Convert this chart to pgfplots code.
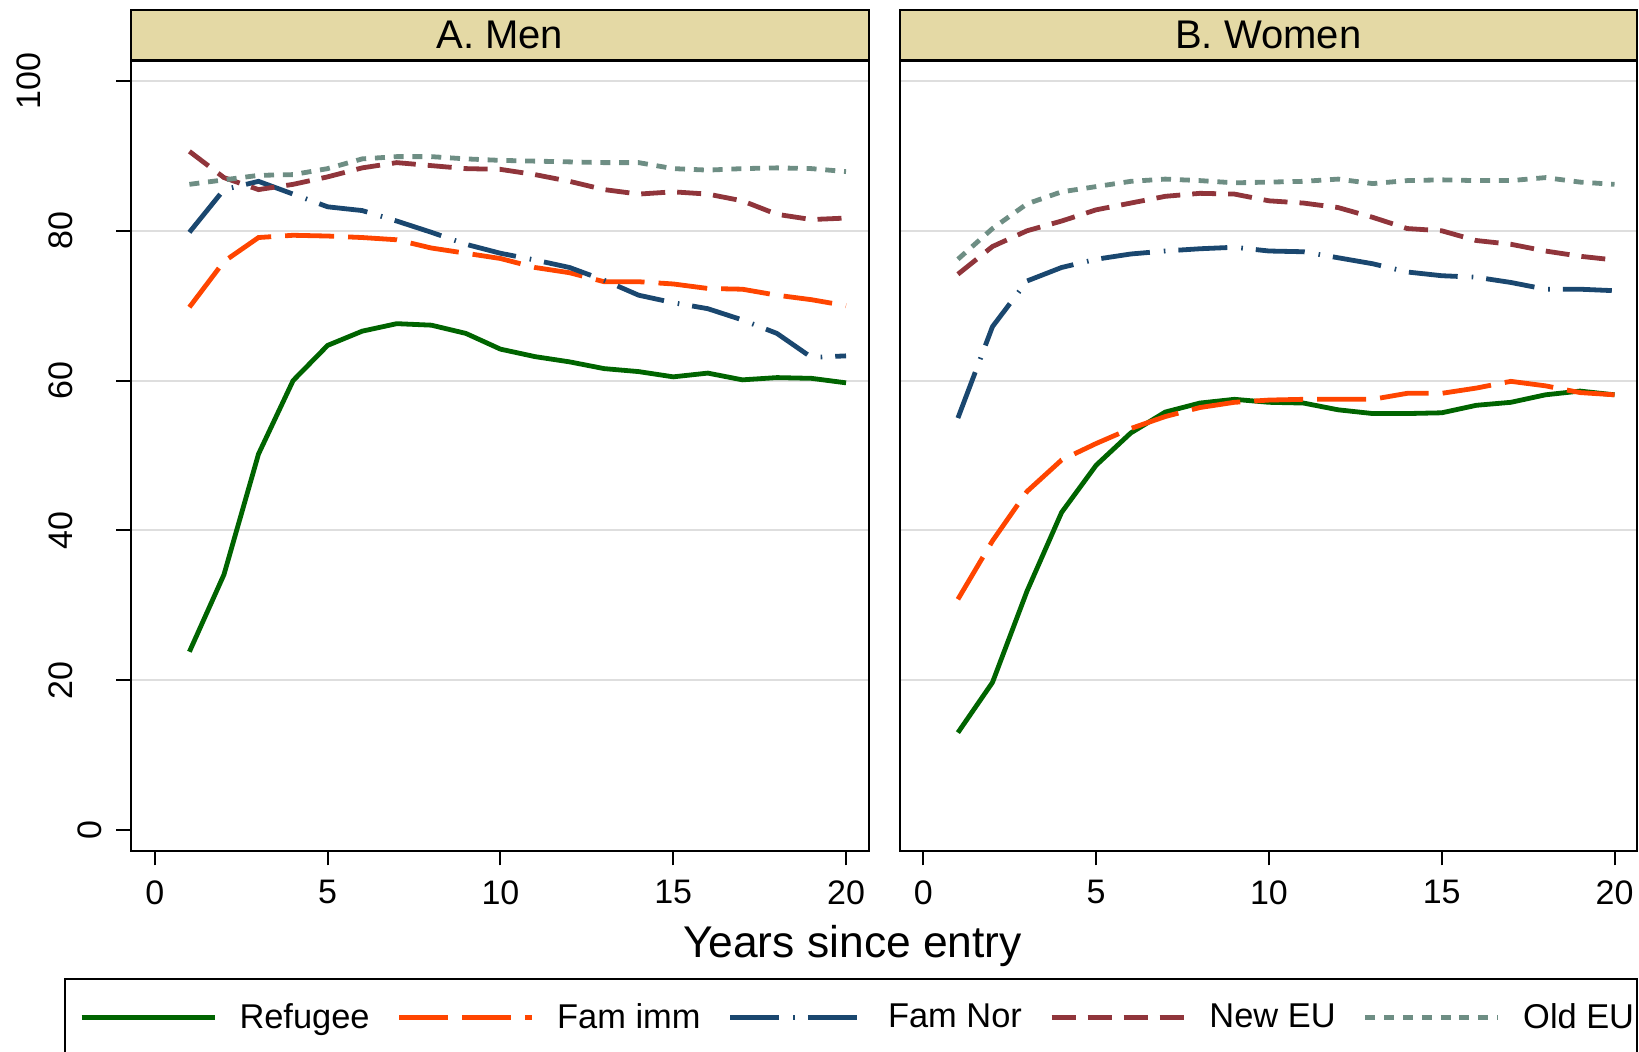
\documentclass[border=0pt]{standalone}
\usepackage{fontspec}
\setmainfont{Liberation Sans}
\usepackage{pgfplots}
\usepackage{pgfplotstable}
\pgfplotsset{compat=1.18}
\definecolor{cref}{RGB}{0,100,0}
\definecolor{cimm}{RGB}{255,69,0}
\definecolor{cnor}{RGB}{26,71,111}
\definecolor{cneu}{RGB}{144,53,59}
\definecolor{coeu}{RGB}{110,142,132}
\definecolor{strip}{RGB}{228,217,165}
\definecolor{gridc}{RGB}{222,222,222}

\pgfplotstableread{
year ref fimm fnor neu oeu
1 23.8 69.8 79.8 90.6 86.2
2 34.1 75.9 85.5 87.1 86.8
3 50.2 79.1 86.6 85.5 87.4
4 60.0 79.4 84.9 86.2 87.5
5 64.7 79.3 83.2 87.2 88.3
6 66.6 79.1 82.7 88.4 89.6
7 67.6 78.8 81.3 89.1 89.9
8 67.4 77.7 79.8 88.7 89.9
9 66.3 77.0 78.2 88.3 89.6
10 64.2 76.3 77.0 88.2 89.4
11 63.2 75.1 76.1 87.5 89.3
12 62.5 74.4 75.1 86.6 89.2
13 61.6 73.2 73.4 85.5 89.1
14 61.2 73.2 71.4 84.9 89.1
15 60.5 72.9 70.4 85.2 88.3
16 61.0 72.3 69.6 84.9 88.1
17 60.1 72.2 68.1 84.0 88.3
18 60.4 71.4 66.3 82.2 88.4
19 60.3 70.8 63.1 81.5 88.3
20 59.7 70.0 63.3 81.7 87.9
}\men

\pgfplotstableread{
year ref fimm fnor neu oeu
1 13.0 30.8 55.0 74.2 76.2
2 19.7 38.6 67.2 77.9 80.3
3 31.9 45.2 73.3 80.0 83.6
4 42.4 49.4 75.1 81.3 85.2
5 48.7 51.6 76.2 82.8 85.9
6 53.0 53.6 76.9 83.7 86.6
7 55.8 55.2 77.3 84.6 86.9
8 57.0 56.4 77.6 85.0 86.7
9 57.5 57.1 77.8 84.9 86.4
10 57.1 57.4 77.3 84.0 86.5
11 57.0 57.5 77.2 83.7 86.6
12 56.1 57.5 76.4 83.1 86.9
13 55.6 57.5 75.6 81.8 86.3
14 55.6 58.3 74.5 80.3 86.7
15 55.7 58.3 74.0 80.0 86.8
16 56.7 59.0 73.8 78.7 86.7
17 57.1 59.9 73.1 78.2 86.7
18 58.1 59.3 72.2 77.3 87.1
19 58.6 58.4 72.2 76.6 86.5
20 58.1 58.1 72.0 76.1 86.2
}\women

\newcommand{\tickfont}{\fontsize{17}{20}\selectfont}
\newcommand{\dpt}[1]{\rule[-#1]{0pt}{#1}}

\pgfplotsset{
  panel/.style={
    scale only axis, width=368.75pt, height=395pt,
    xmin=-0.69, xmax=20.65, ymin=-2.8, ymax=102.67,
    axis line style={line width=1pt, black},
    xtick={0,5,10,15,20}, xtick pos=bottom, tick align=outside,
    major tick length=7.25pt,
    every tick/.style={line width=1pt, black},
    xticklabel style={font=\tickfont, yshift=-4pt},
    /pgf/number format/assume math mode=true,
    ymajorgrids, grid style={line width=1pt, gridc},
    ytick pos=left,
    every axis title shift=0pt,
    title style={at={(0.5,1)}, anchor=south, yshift=0pt, fill=strip, draw=black,
      line width=1pt, minimum width=368.75pt, minimum height=25pt, inner sep=0pt,
      font=\fontsize{20}{24}\selectfont},
    clip=true,
  },
  sref/.style={cref, line width=2.4pt, solid},
  simm/.style={cimm, line width=2.4pt, dash pattern=on 24.5pt off 7pt},
  snor/.style={cnor, line width=2.4pt, dash pattern=on 24.5pt off 7pt on 0.8pt off 6.5pt},
  sneu/.style={cneu, line width=2.4pt, dash pattern=on 12pt off 6pt},
  soeu/.style={coeu, line width=2.4pt, dash pattern=on 5pt off 4.4pt},
}

\begin{document}
\begin{tikzpicture}
\useasboundingbox (0,0) rectangle (819.5pt,526pt);
\draw[line width=1pt] (32.5pt,-10pt) rectangle (818.5pt,36.3pt);

\begin{axis}[panel, at={(65.5pt,100.5pt)}, anchor=south west,
  title={A. Men},
  ytick={20,40,60,80,100},
  yticklabels={{\dpt{15pt}20},{\dpt{15pt}40},{\dpt{15pt}60},{\dpt{15pt}80},{\dpt{31pt}100}},
  extra y ticks={0}, extra y tick labels={0},
  extra y tick style={grid=none},
  yticklabel style={rotate=90, anchor=south, inner sep=0pt, font=\tickfont, yshift=7pt},
  xlabel={Years since entry},
  xlabel style={at={(0.9783,-0.1342)}, anchor=base, inner sep=0pt, font=\fontsize{22.2}{26}\selectfont},
  legend columns=5,
  legend cell align=left,
  legend style={at={(-0.0706,-0.2105)}, anchor=west, draw=none, fill=none,
    inner sep=0pt, font=\fontsize{17.2}{20}\selectfont,
    nodes={inner sep=0pt},
    /tikz/every odd column/.append style={column sep=11.2pt},
    /tikz/every even column/.append style={column sep=13.7pt}},
  legend image code/.code={\draw[#1] (0pt,0pt) -- (66.5pt,0pt);},
]
\addplot[sref] table[x=year, y=ref] {\men};
\addlegendentry{Refugee}
\addplot[simm] table[x=year, y=fimm] {\men};
\addlegendentry{Fam imm}
\addplot[snor] table[x=year, y=fnor] {\men};
\addlegendentry{Fam Nor}
\addplot[sneu] table[x=year, y=neu] {\men};
\addlegendentry{New EU}
\addplot[soeu] table[x=year, y=oeu] {\men};
\addlegendentry{Old EU}
\end{axis}

\begin{axis}[panel, at={(449.75pt,100.5pt)}, anchor=south west,
  title={B. Women},
  ytick={20,40,60,80,100}, yticklabels={}, y tick style={draw=none},
]
\addplot[sref] table[x=year, y=ref] {\women};
\addplot[simm] table[x=year, y=fimm] {\women};
\addplot[snor] table[x=year, y=fnor] {\women};
\addplot[sneu] table[x=year, y=neu] {\women};
\addplot[soeu] table[x=year, y=oeu] {\women};
\end{axis}
\end{tikzpicture}
\end{document}
